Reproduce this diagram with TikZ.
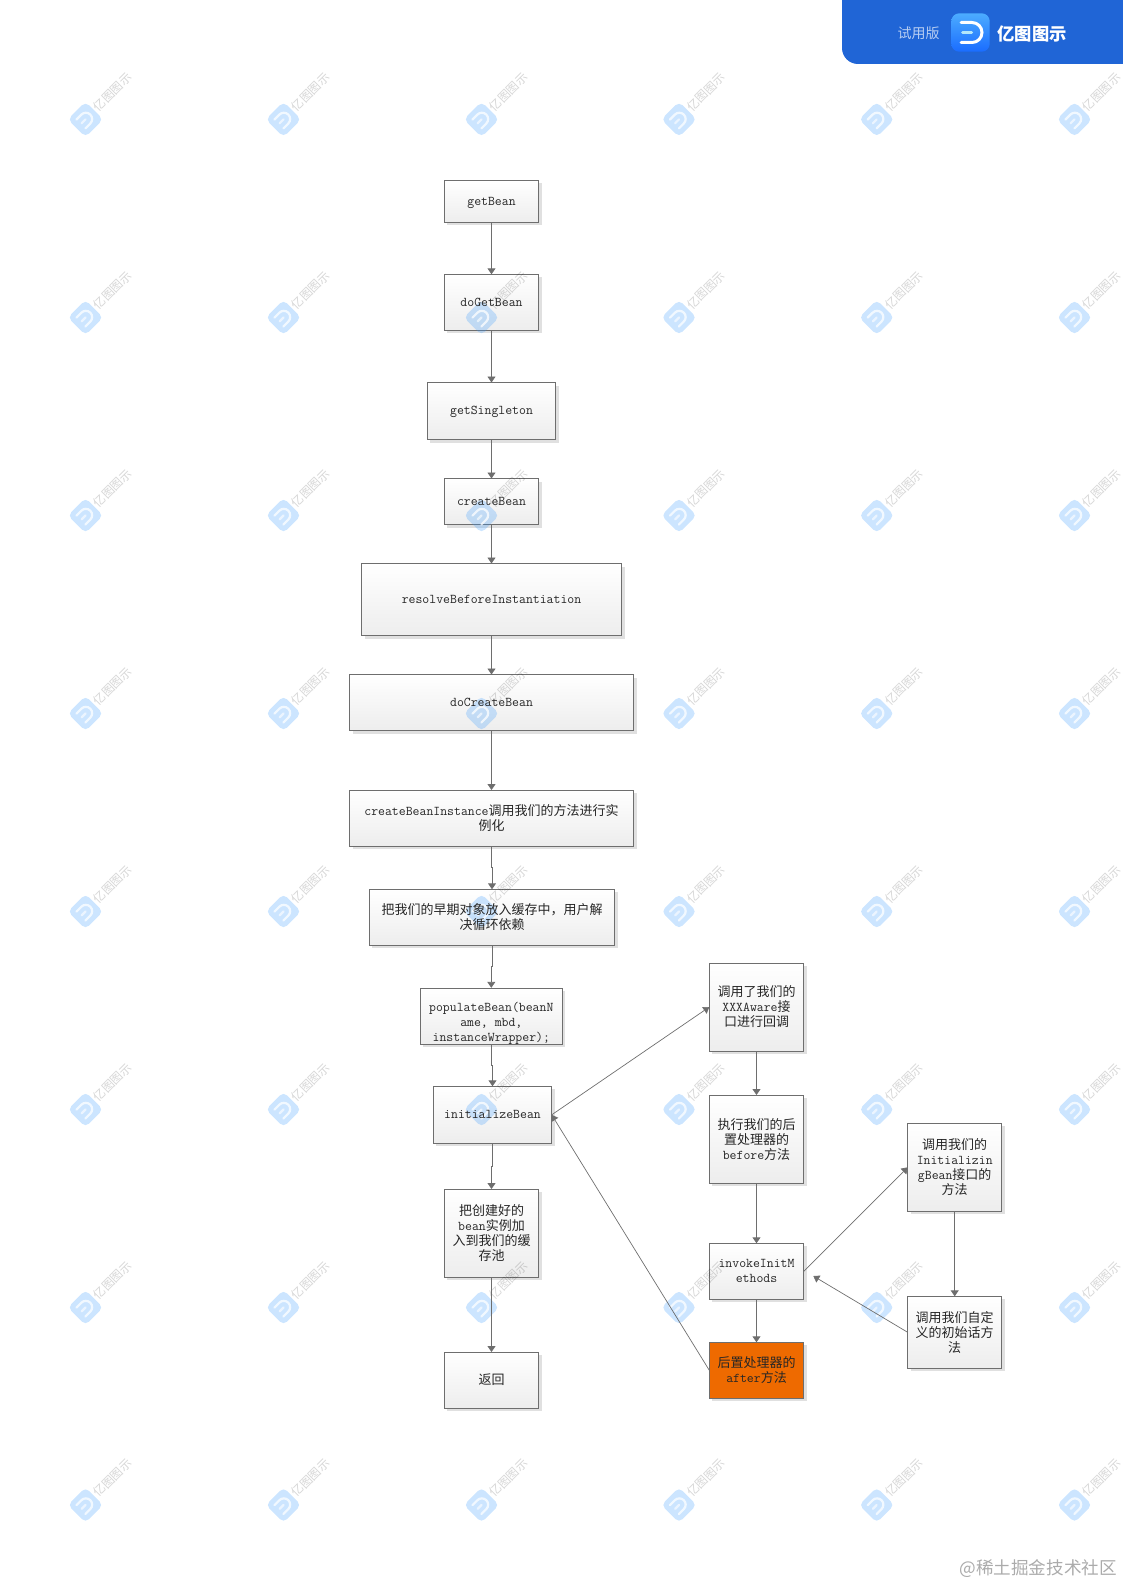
\documentclass[tikz,border=0pt]{standalone}
\usepackage{fontspec}
\usetikzlibrary{arrows.meta,shadows,calc}
\newfontfamily\cjk{Noto Sans CJK SC}
\newcommand{\zh}[1]{{\fontsize{13}{15}\selectfont\cjk #1}}
\definecolor{edgeg}{HTML}{6E6E6E}
\definecolor{hdr}{HTML}{2065D6}
\definecolor{wmblue}{HTML}{3A9BFF}
\definecolor{orangebox}{HTML}{EE6A00}
\definecolor{icontop}{HTML}{4CACFF}
\definecolor{iconbot}{HTML}{1A6CFF}
\pgfdeclarelayer{shapes}
\pgfdeclarelayer{wm}
\pgfsetlayers{shapes,wm,main}
\tikzset{
  boxshape/.style={draw=edgeg,line width=0.9pt,top color=white,bottom color=black!7,inner sep=0pt,outer sep=0pt,
    drop shadow={shadow xshift=3pt,shadow yshift=-3pt,fill=black!12,opacity=1}},
  hot/.style={top color=orangebox,bottom color=orangebox,fill=orangebox},
  box/.style={inner sep=0pt,outer sep=0pt,align=center,text=black!85,font=\fontsize{13.4}{15}\selectfont\ttfamily},
  link/.style={draw=edgeg,line width=0.9pt,-{Triangle[width=8pt,length=6pt]}},
  slant/.style={link,line width=0.7pt},
}
\newcommand{\bx}[7][]{%
  \begin{pgfonlayer}{shapes}
    \node[boxshape,#1,minimum width={#5pt-#3pt},minimum height={#6pt-#4pt}] (#2bg) at ({(#3+#5)/2},{(#4+#6)/2}) {};
  \end{pgfonlayer}
  \node[box,minimum width={#5pt-#3pt},minimum height={#6pt-#4pt}] (#2) at ({(#3+#5)/2},{(#4+#6)/2}) {#7};}
\newcommand{\vlink}[2]{\draw[link] (#1.south) |- ($(#1.south)!.5!(#2.north)$) -| (#2.north);}
\begin{document}
\begin{tikzpicture}[x=1pt,y=-1pt]
\useasboundingbox (0,0) rectangle (1123,1587);
% boxes
\bx{getBean}{444.3}{180.3}{538.7}{222.3}{\rule{0pt}{10.7pt}getBean}
\bx{doGetBean}{444.3}{274.3}{538.7}{330.3}{doGetBean}
\bx{getSingleton}{427.3}{382.5}{555.7}{439.5}{\rule{0pt}{10.7pt}getSingleton}
\bx{createBean}{444.3}{478.5}{538.7}{524.5}{createBean}
\bx{resolve}{361.5}{563.5}{621.5}{635.5}{resolveBeforeInstantiation}
\bx{doCreate}{349.5}{674.5}{633.5}{730.5}{doCreateBean}
\bx{instance}{349.5}{790}{633.5}{846}{createBeanInstance\zh{调用我们的方法进行实}\\\zh{例化}}
\bx{early}{369.3}{889.3}{614.7}{945.3}{\zh{把我们的早期对象放入缓存中，用户解}\\\zh{决循环依赖}}
\bx{populate}{420.3}{988.3}{562.3}{1044.3}{\rule{0pt}{24pt}populateBean(beanN\\ame, mbd,\\instanceWrapper);}
\bx{init}{433.3}{1086.3}{551.7}{1143.3}{initializeBean}
\bx{pool}{444.3}{1189}{538.7}{1277}{\zh{把创建好的}\\bean\zh{实例加}\\\zh{入到我们的缓}\\\zh{存池}}
\bx{ret}{444.3}{1352}{538.7}{1408}{\zh{返回}}
\bx{aware}{709.3}{963}{803.7}{1051}{\zh{调用了我们的}\\XXXAware\zh{接}\\\zh{口进行回调}}
\bx{before}{709.3}{1095}{803.7}{1183.3}{\zh{执行我们的后}\\\zh{置处理器的}\\before\zh{方法}}
\bx{invoke}{709.3}{1243.3}{803.7}{1299.3}{invokeInitM\\ethods}
\bx[hot]{after}{709.3}{1342.3}{803.7}{1398.3}{\zh{后置处理器的}\\after\zh{方法}}
\bx{ibean}{907.7}{1123.3}{1001.7}{1211.3}{\zh{调用我们的}\\Initializin\\gBean\zh{接口的}\\\zh{方法}}
\bx{custom}{907.7}{1296.3}{1001.7}{1368.3}{\zh{调用我们自定}\\\zh{义的初始话方}\\\zh{法}}
\coordinate (customEnd) at (813.3,1276);
% connectors
\vlink{getBean}{doGetBean}
\vlink{doGetBean}{getSingleton}
\vlink{getSingleton}{createBean}
\vlink{createBean}{resolve}
\vlink{resolve}{doCreate}
\vlink{doCreate}{instance}
\vlink{instance}{early}
\vlink{early}{populate}
\vlink{populate}{init}
\vlink{init}{pool}
\vlink{pool}{ret}
\vlink{aware}{before}
\vlink{before}{invoke}
\vlink{invoke}{after}
\vlink{ibean}{custom}
\draw[slant] (init.east) -- (aware.west);
\draw[slant] (after.west) -- (init.east);
\draw[slant] (invoke.east) -- (ibean.west);
\draw[slant] (custom.west) -- (customEnd);
% watermark
\begin{pgfonlayer}{wm}
\foreach \wx/\ix in {85.5/1,283.5/2,481.5/3,679/4,876.7/5,1074.5/6}{
 \foreach \wy/\iy in {119.4/1,317.5/2,515.5/3,713.5/4,911.5/5,1109.5/6,1307.5/7,1505/8}{
  \begin{scope}[shift={(\wx,\wy)},rotate=45]
   \fill[wmblue,opacity=.26,rounded corners=5pt] (-12.5,-12.5) rectangle (12.5,12.5);
   \draw[white,opacity=.75,line width=2.2pt,line cap=round] (-6.5,-6.3) -- (0.5,-6.3) arc[start angle=90,end angle=-90,radius=6.3pt] -- (-6.5,6.3);
   \draw[white,opacity=.6,line width=2.2pt,line cap=round] (-5.5,0) -- (0,0);
   \node[rotate=45,text=black,opacity=.16,font=\fontsize{12}{12}\selectfont\cjk,inner sep=0pt] (wm\ix\iy) at (38.5,0) {亿图图示};
  \end{scope}
 }
}
\end{pgfonlayer}
% header
\fill[hdr] (842,0) -- (842,48) arc[start angle=180,end angle=270,radius=16pt] -- (1123,64) -- (1123,0) -- cycle;
\node[text=white!68!hdr,font=\fontsize{14}{14}\selectfont\cjk,inner sep=0pt] (trial) at (918.5,33.5) {试用版};
\shade[top color=icontop,bottom color=iconbot,rounded corners=8pt] (951.3,13.3) rectangle (989.7,51.7);
\begin{scope}[shift={(970.5,32.5)}]
 \draw[white,line width=3pt,line cap=round] (-9.5,-10) -- (1.5,-10) arc[start angle=90,end angle=-90,radius=10pt] -- (-9.5,10);
 \draw[white!70!cyan,line width=3pt,line cap=round] (-8,0) -- (1,0);
\end{scope}
\node[text=white,font=\fontsize{17.3}{17.3}\selectfont\cjk\bfseries,inner sep=0pt] (brand) at (1032,34) {亿图图示};
% footer
\node[text=black!33,font=\fontsize{17.6}{18}\selectfont\cjk,inner sep=0pt,anchor=east] (juejin) at (1117,1569) {@稀土掘金技术社区};
\end{tikzpicture}
\end{document}
